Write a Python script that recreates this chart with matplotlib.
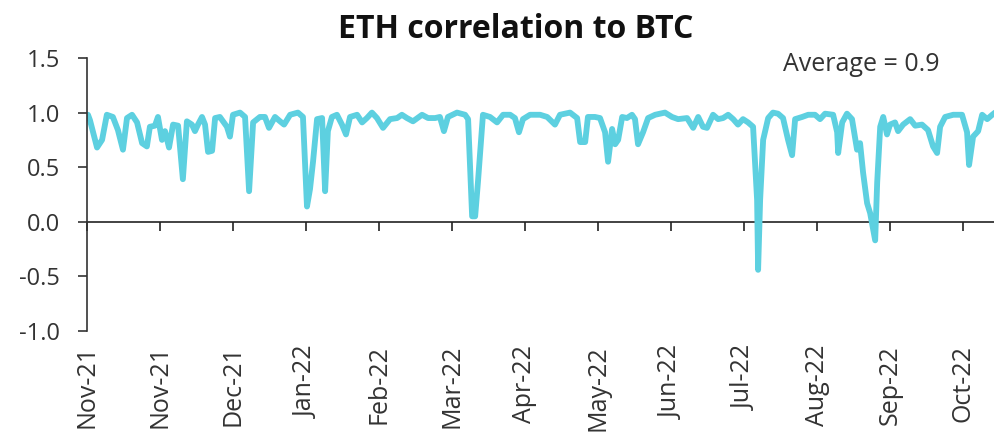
import matplotlib
matplotlib.use("Agg")
import matplotlib.pyplot as plt
import matplotlib.transforms as mtransforms
import numpy as np

plt.rcParams['font.family'] = ['Open Sans', 'DejaVu Sans']
plt.rcParams['axes.unicode_minus'] = False

# ---- data ----
day_offsets = [0.4, 1.2, 4.0, 6.0, 7.9, 10.3, 12.3, 14.3, 15.9, 17.9, 19.9, 21.9, 23.8, 25.0,
               27.0, 28.2, 29.8, 31.0, 32.6, 34.2, 36.2, 38.1, 39.7, 41.7, 42.9, 44.1, 45.7,
               46.9, 48.1, 49.7, 50.9, 52.8, 55.6, 56.8, 58.0, 60.8, 62.8, 64.4, 66.0, 68.7,
               70.7, 72.3, 74.7, 76.7, 78.3, 80.7, 83.8, 85.8, 87.4, 88.6, 89.8, 91.4, 93.4,
               94.6, 95.7, 97.3, 99.3, 101.3, 102.9, 104.5, 107.3, 109.3, 111.2, 113.2, 115.2,
               117.6, 120.4, 123.2, 125.1, 127.1, 129.5, 133.1, 135.5, 138.3, 140.2, 141.8,
               143.4, 147.0, 150.2, 151.4, 153.0, 154.2, 155.3, 157.3, 160.1, 162.9, 165.3,
               168.1, 170.0, 171.6, 173.2, 176.0, 180.0, 182.8, 185.9, 187.9, 191.9, 194.7,
               195.9, 197.9, 199.0, 201.8, 203.8, 205.8, 207.0, 208.6, 209.8, 211.0, 212.6,
               214.5, 216.5, 217.7, 218.9, 220.9, 222.9, 225.7, 229.6, 232.4, 234.8, 238.4,
               240.8, 242.8, 244.7, 246.3, 248.7, 250.7, 252.7, 254.7, 256.7, 258.6, 260.6,
               262.6, 264.6, 266.2, 266.6, 267.4, 268.6, 270.6, 272.5, 274.5, 276.5, 278.5,
               280.1, 281.3, 284.1, 286.5, 289.2, 291.2, 293.2, 296.4, 298.0, 298.4, 300.0,
               301.9, 303.9, 305.9, 307.1, 308.3, 309.9, 311.1, 313.1, 313.9, 315.1, 316.3,
               317.8, 319.0, 321.0, 322.2, 324.2, 327.0, 329.0, 331.7, 334.1, 336.1, 337.7,
               338.9, 340.9, 344.1, 347.6, 349.6, 350.4, 352.0, 354.0, 355.6, 357.6, 359.6,
               360.7]
correlation = [0.98, 0.93, 0.68, 0.75, 0.98, 0.96, 0.84, 0.66, 0.95, 0.98, 0.91, 0.72, 0.69, 0.87,
               0.88, 0.96, 0.75, 0.83, 0.68, 0.89, 0.88, 0.39, 0.92, 0.89, 0.83, 0.89, 0.96,
               0.89, 0.64, 0.65, 0.95, 0.96, 0.87, 0.78, 0.98, 1.00, 0.96, 0.28, 0.91, 0.96,
               0.96, 0.86, 0.96, 0.92, 0.89, 0.98, 1.00, 0.96, 0.14, 0.30, 0.55, 0.94, 0.95,
               0.28, 0.83, 0.96, 0.98, 0.89, 0.80, 0.96, 0.98, 0.91, 0.95, 1.00, 0.95,
               0.86, 0.94, 0.95, 0.98, 0.95, 0.92, 0.98, 0.95, 0.95, 0.96, 0.83,
               0.96, 1.00, 0.98, 0.94, 0.05, 0.05, 0.36, 0.98, 0.96, 0.91, 0.98,
               0.98, 0.95, 0.82, 0.94, 0.98, 0.98, 0.96, 0.89, 0.98, 1.00, 0.95,
               0.73, 0.73, 0.96, 0.96, 0.95, 0.82, 0.55, 0.85, 0.71, 0.75, 0.96,
               0.95, 0.98, 0.94, 0.71, 0.82, 0.95, 0.98, 1.00, 0.96, 0.94, 0.95,
               0.86, 0.96, 0.87, 0.86, 0.98, 0.94, 0.95, 0.98, 0.94, 0.89, 0.94,
               0.91, 0.87, 0.20, -0.44, 0.20, 0.75, 0.95, 1.00, 0.99, 0.95, 0.75,
               0.61, 0.94, 0.96, 0.98, 0.98, 0.94, 0.99, 0.98, 0.82, 0.63, 0.91,
               0.99, 0.94, 0.66, 0.72, 0.45, 0.17, 0.08, -0.17, 0.36, 0.87, 0.96,
               0.80, 0.89, 0.91, 0.83, 0.89, 0.94, 0.88, 0.89, 0.84, 0.69, 0.63,
               0.87, 0.96, 0.98, 0.98, 0.82, 0.52, 0.78, 0.83, 0.98, 0.94, 0.98,
               1.00]
tick_labels = ["Nov-21", "Nov-21", "Dec-21", "Jan-22", "Feb-22", "Mar-22", "Apr-22",
               "May-22", "Jun-22", "Jul-22", "Aug-22", "Sep-22", "Oct-22"]
tick_step_days = 29
average_label = "Average = 0.9"
title = "ETH correlation to BTC"

# ---- figure ----
fig = plt.figure(figsize=(9.95, 4.45), dpi=100)
ax = fig.add_axes([0.0874, 0.2562, 1.0 - 0.0874, 0.8697 - 0.2562])

ax.plot(day_offsets, correlation, color='#5DD0E0', lw=4.2, solid_joinstyle='round',
        solid_capstyle='round')

ax.set_xlim(0, max(day_offsets))
ax.set_ylim(-1.0, 1.5)
yt = np.arange(-1.0, 1.51, 0.5)
ax.set_yticks(yt)
ax.set_yticklabels([f"{v:.1f}" for v in yt])

tick_pos = [i * tick_step_days for i in range(len(tick_labels))]
ax.set_xticks(tick_pos)
ax.set_xticklabels(tick_labels, rotation=90)

for s in ['top', 'right', 'bottom']:
    ax.spines[s].set_visible(False)
ax.spines['left'].set_color('#333333')
ax.spines['left'].set_linewidth(1.2)

ax.tick_params(axis='y', direction='out', length=6.5, width=1.2, color='#333333',
               labelsize=17, labelcolor='#333333', pad=13)
ax.tick_params(axis='x', length=0, labelsize=18, labelcolor='#333333', pad=10)

# zero line axis with ticks
sec = ax.secondary_xaxis(0, transform=ax.transData)
sec.set_xticks(tick_pos)
sec.set_xticklabels([])
sec.tick_params(axis='x', direction='out', length=6.5, width=1.2, color='#222222')
sec.spines['bottom'].set_color('#222222')
sec.spines['bottom'].set_linewidth(1.2)

ax.text(0.853, 1.44, average_label,
        transform=mtransforms.blended_transform_factory(ax.transAxes, ax.transData),
        ha='center', va='center', fontsize=18, color='#333333')

fig.text(0.518, 0.933, title, ha='center', va='center', fontsize=23, fontweight='bold',
         color='#111111')

fig.savefig("out.png", dpi=100)
